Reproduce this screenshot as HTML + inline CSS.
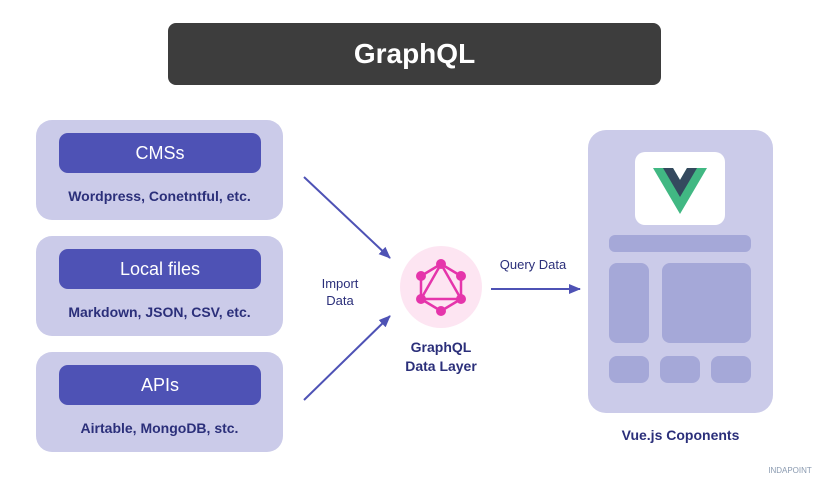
<!DOCTYPE html>
<html><head><style>
body{margin:0;width:830px;height:490px;background:#fff;position:relative;font-family:"Liberation Sans",sans-serif;overflow:hidden}
.a{position:absolute}
.card{position:absolute;left:36px;width:247px;height:100px;background:#cbcbe9;border-radius:16px}
.pill{position:absolute;left:23px;width:202px;height:40px;top:13px;background:#4e52b5;border-radius:9px;color:#fff;font-size:18px;text-align:center;line-height:40px}
.sub{position:absolute;left:0;width:247px;top:68px;text-align:center;color:#2b2f7a;font-weight:bold;font-size:14px}
.blk{position:absolute;background:#a5a8d8;border-radius:8px}
.lbl{position:absolute;color:#2b2f7a;font-size:13px;text-align:center}
</style></head><body>
<div class="a" style="left:168px;top:23px;width:493px;height:62px;background:#3d3d3d;border-radius:8px;color:#fff;font-weight:bold;font-size:28px;text-align:center;line-height:62px">GraphQL</div>

<div class="card" style="top:120px"><div class="pill">CMSs</div><div class="sub">Wordpress, Conetntful, etc.</div></div>
<div class="card" style="top:236px"><div class="pill">Local files</div><div class="sub">Markdown, JSON, CSV, etc.</div></div>
<div class="card" style="top:352px"><div class="pill">APIs</div><div class="sub">Airtable, MongoDB, stc.</div></div>

<svg class="a" style="left:0;top:0" width="830" height="490">
<defs><marker id="m" markerWidth="8" markerHeight="8" refX="7" refY="4" orient="auto" markerUnits="userSpaceOnUse"><path d="M0,0L8,4L0,8z" fill="#4e52b5"/></marker>
<marker id="m2" markerWidth="12" markerHeight="10" refX="11" refY="5" orient="auto" markerUnits="userSpaceOnUse"><path d="M0,0L12,5L0,10z" fill="#4e52b5"/></marker></defs>
<line x1="304" y1="177" x2="390" y2="258" stroke="#4e52b5" stroke-width="2" marker-end="url(#m2)"/>
<line x1="304" y1="400" x2="390" y2="316" stroke="#4e52b5" stroke-width="2" marker-end="url(#m2)"/>
<line x1="491" y1="289" x2="580" y2="289" stroke="#4e52b5" stroke-width="2" marker-end="url(#m2)"/>
<circle cx="441" cy="287" r="41" fill="#fde5f2"/>
<g stroke="#e535ab" stroke-width="2.5" fill="none">
<polygon points="441,264 461,276 461,299 441,311 421,299 421,276"/>
<polygon points="441,264 461,299 421,299"/>
</g>
<g fill="#e535ab">
<circle cx="441" cy="264" r="5"/><circle cx="461" cy="276" r="5"/><circle cx="461" cy="299" r="5"/><circle cx="441" cy="311" r="5"/><circle cx="421" cy="299" r="5"/><circle cx="421" cy="276" r="5"/>
</g>
</svg>
<div class="lbl" style="left:300px;top:275px;width:80px;line-height:17px">Import<br>Data</div>
<div class="lbl" style="left:483px;top:257px;width:100px">Query Data</div>
<div class="lbl" style="left:386px;top:338px;width:110px;font-weight:bold;font-size:14px;line-height:19px">GraphQL<br>Data Layer</div>

<div class="a" style="left:588px;top:130px;width:185px;height:283px;background:#cbcbe9;border-radius:18px"></div>
<div class="a" style="left:635px;top:152px;width:90px;height:73px;background:#fff;border-radius:10px"></div>
<svg class="a" style="left:653px;top:168px" width="54" height="46"><polygon points="0,0 20,0 27,12 34,0 54,0 27,46" fill="#41b883"/><polygon points="10,0 20,0 27,12 34,0 44,0 27,29" fill="#34495e"/></svg>
<div class="blk" style="left:609px;top:235px;width:142px;height:17px;border-radius:6px"></div>
<div class="blk" style="left:609px;top:263px;width:40px;height:80px"></div>
<div class="blk" style="left:662px;top:263px;width:89px;height:80px"></div>
<div class="blk" style="left:609px;top:356px;width:40px;height:27px"></div>
<div class="blk" style="left:660px;top:356px;width:40px;height:27px"></div>
<div class="blk" style="left:711px;top:356px;width:40px;height:27px"></div>
<div class="lbl" style="left:590px;top:427px;width:181px;font-weight:bold;font-size:14px">Vue.js Coponents</div>
<div class="lbl" style="left:760px;top:466px;width:60px;font-size:8px;color:#8a9ab0">INDAPOINT</div>
</body></html>
